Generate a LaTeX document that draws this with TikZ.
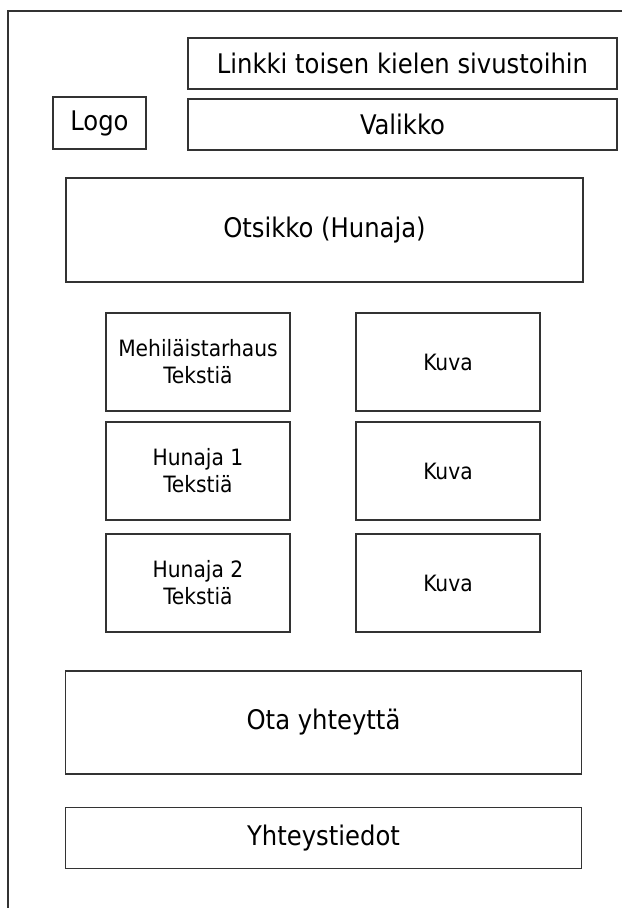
\documentclass[tikz,border=0pt]{standalone}
\usepackage{fontspec}
\setmainfont{DejaVu Sans Condensed}
\begin{document}
\begin{tikzpicture}[x=1pt,y=-1pt,
  box/.style={draw=black!80,line width=1.6pt,inner sep=0pt,align=center,rectangle},
  big/.style={font=\fontsize{27}{32}\selectfont},
  small/.style={font=\fontsize{22.5}{27}\selectfont}]
\useasboundingbox[fill=white] (0,0) rectangle (622,908);
\coordinate (tr) at (622,11);
\coordinate (tl) at (8,11);
\coordinate (bl) at (8,908);
\draw[black!80,line width=1.6pt] (tr) -- (tl) -- (bl);
\node[box,big,minimum width=93pt,minimum height=52pt] (logo) at (99.5,123) {Logo};
\node[box,big,minimum width=429pt,minimum height=51pt] (link) at (402.5,63.5) {Linkki toisen kielen sivustoihin};
\node[box,big,minimum width=429pt,minimum height=51pt] (menu) at (402.5,124.5) {Valikko};
\node[box,big,minimum width=517pt,minimum height=104pt] (title) at (324.5,230) {Otsikko (Hunaja)};
\node[box,small,minimum width=184pt,minimum height=98pt] (t1) at (198,362) {Mehiläistarhaus\\Tekstiä};
\node[box,small,minimum width=184pt,minimum height=98pt] (k1) at (448,362) {Kuva};
\node[box,small,minimum width=184pt,minimum height=98pt] (t2) at (198,471) {Hunaja 1\\Tekstiä};
\node[box,small,minimum width=184pt,minimum height=98pt] (k2) at (448,471) {Kuva};
\node[box,small,minimum width=184pt,minimum height=98pt] (t3) at (198,583) {Hunaja 2\\Tekstiä};
\node[box,small,minimum width=184pt,minimum height=98pt] (k3) at (448,583) {Kuva};
\node[box,big,minimum width=516pt,minimum height=103pt] (contact) at (323.5,722.5) {Ota yhteyttä};
\node[box,big,minimum width=516pt,minimum height=61pt] (info) at (323.5,838) {Yhteystiedot};
\end{tikzpicture}
\end{document}
